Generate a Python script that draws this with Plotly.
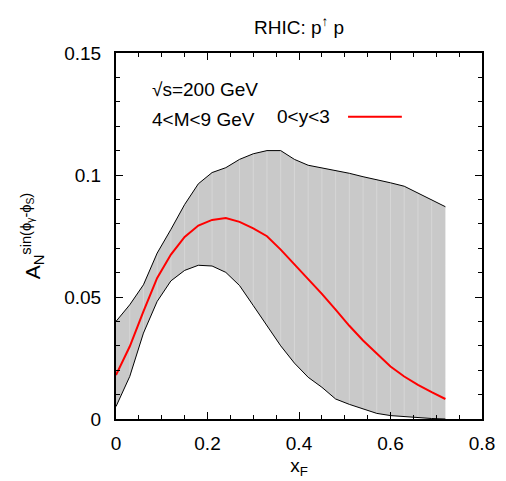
import plotly.graph_objects as go

x_f = [0.00, 0.03, 0.06, 0.09, 0.12, 0.15, 0.18, 0.21, 0.24, 0.27, 0.30, 0.33, 0.36,
       0.39, 0.42, 0.45, 0.48, 0.51, 0.54, 0.57, 0.60, 0.63, 0.66, 0.69, 0.72]
central = [0.0180, 0.0297, 0.0441, 0.0578, 0.0674, 0.0746, 0.0793, 0.0816, 0.0824, 0.0808,
           0.0781, 0.0749, 0.0694, 0.0633, 0.0575, 0.0513, 0.0448, 0.0382, 0.0322, 0.0267,
           0.0215, 0.0174, 0.0140, 0.0110, 0.0082]
upper = [0.0400, 0.0468, 0.0550, 0.0680, 0.0777, 0.0879, 0.0964, 0.1010, 0.1030, 0.1064,
         0.1087, 0.1100, 0.1100, 0.1064, 0.1040, 0.1030, 0.1019, 0.1007, 0.0993, 0.0982,
         0.0968, 0.0954, 0.0927, 0.0900, 0.0870]
lower = [0.0051, 0.0174, 0.0352, 0.0482, 0.0566, 0.0609, 0.0630, 0.0627, 0.0601, 0.0547,
         0.0465, 0.0382, 0.0300, 0.0229, 0.0171, 0.0130, 0.0082, 0.0060, 0.0040, 0.0023,
         0.0014, 0.0009, 0.0005, 0.0002, 0.0000]
x_ticks = [0, 0.2, 0.4, 0.6, 0.8]
x_ticklabels = ["0", "0.2", "0.4", "0.6", "0.8"]
y_ticks = [0, 0.05, 0.1, 0.15]
y_ticklabels = ["0", "0.05", "0.1", "0.15"]

FONT = "Liberation Sans, Arial, sans-serif"
FS = 19

fig = go.Figure()
fig.add_trace(go.Scatter(x=x_f, y=lower, mode="lines", line=dict(width=0),
                         showlegend=False, hoverinfo="skip"))
fig.add_trace(go.Scatter(x=x_f, y=upper, mode="lines", line=dict(width=0),
                         fill="tonexty", fillcolor="#c9c9c9",
                         showlegend=False, hoverinfo="skip"))
# faint seams between filled segments
sx, sy = [], []
for xv, lo, hi in zip(x_f[1:-1], lower[1:-1], upper[1:-1]):
    sx += [xv, xv, None]
    sy += [lo, hi, None]
fig.add_trace(go.Scatter(x=sx, y=sy, mode="lines", line=dict(color="#d6d6d6", width=1),
                         showlegend=False, hoverinfo="skip"))
fig.add_trace(go.Scatter(x=x_f, y=lower, mode="lines", line=dict(color="black", width=1),
                         showlegend=False))
fig.add_trace(go.Scatter(x=x_f, y=upper, mode="lines", line=dict(color="black", width=1),
                         showlegend=False))
fig.add_trace(go.Scatter(x=x_f, y=central, mode="lines", line=dict(color="#ff0000", width=2),
                         name="0<y<3", showlegend=False))

axis_common = dict(
    showgrid=False, zeroline=False, showline=True, linecolor="black", linewidth=2,
    mirror="allticks", ticks="inside", ticklen=7, tickwidth=1, tickcolor="black",
    tickfont=dict(family=FONT, size=FS, color="black"),
    minor=dict(ticks="inside", ticklen=4, tickwidth=1, tickcolor="black"),
)
fig.update_xaxes(range=[0, 0.8], tickvals=x_ticks, ticktext=x_ticklabels,
                 minor_dtick=0.05, ticklabelstandoff=6,
                 title=dict(text="x<sub>F</sub>", font=dict(family=FONT, size=FS, color="black"),
                            standoff=6),
                 **axis_common)
fig.update_yaxes(range=[0, 0.15], tickvals=y_ticks, ticktext=y_ticklabels,
                 minor_dtick=0.01, ticklabelstandoff=9,
                 title=dict(text="A<sub>N</sub><sup>sin(ϕ<sub>γ</sub>-ϕ<sub>S</sub>)</sup>",
                            font=dict(family=FONT, size=21, color="black"), standoff=18),
                 **axis_common)

fig.add_annotation(text="RHIC: p<sup>↑</sup> p", xref="paper", yref="paper", x=0.5, y=1,
                   yshift=13, showarrow=False, yanchor="bottom",
                   font=dict(family=FONT, size=FS, color="black"))
fig.add_annotation(text="√s=200 GeV", xref="paper", yref="paper", x=0.093, y=0.9,
                   xanchor="left", yanchor="middle", showarrow=False,
                   font=dict(family=FONT, size=FS, color="black"))
fig.add_annotation(text="4<M<9 GeV", xref="paper", yref="paper", x=0.093, y=0.817,
                   xanchor="left", yanchor="middle", showarrow=False,
                   font=dict(family=FONT, size=FS, color="black"))
fig.add_annotation(text="0<y<3", xref="paper", yref="paper", x=0.434, y=0.826,
                   xanchor="left", yanchor="middle", showarrow=False,
                   font=dict(family=FONT, size=FS, color="black"))
fig.add_shape(type="line", xref="paper", yref="paper", x0=0.634, x1=0.781, y0=0.826, y1=0.826,
              line=dict(color="#ff0000", width=2))

# the page adds an 8px body margin; compensate so the frame sits where the reference has it
fig.update_layout(
    width=506, height=481,
    margin=dict(l=108, r=32, t=45, b=70),
    paper_bgcolor="white", plot_bgcolor="white",
    font=dict(family=FONT, color="black"),
)
fig.write_html("out.html")
